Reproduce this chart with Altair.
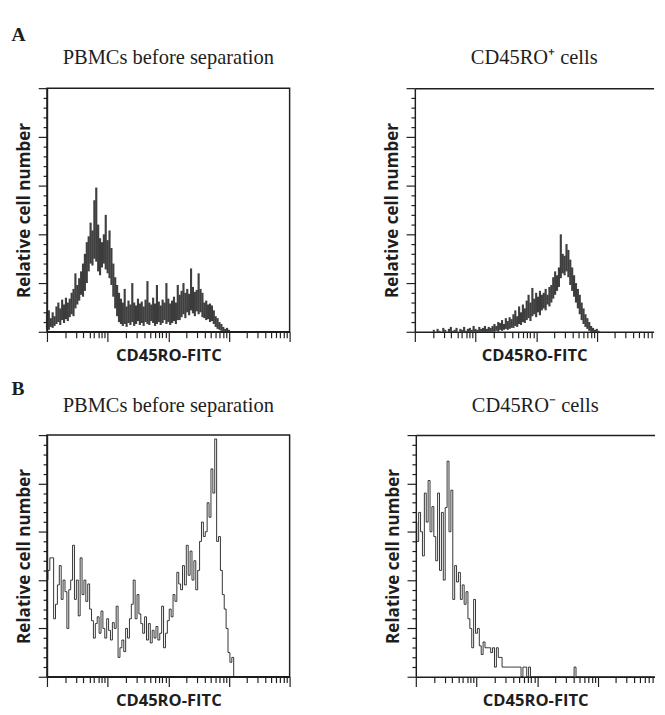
import altair as alt
import pandas as pd

# ---------------- data (heights) ----------------
CHANNELS_PER_DECADE = 32

# Panel A, left: PBMCs before separation (dense band: lower / upper envelope per channel)
a_left_lo = [3, 2, 5, 4, 6, 8, 10, 7, 12, 9, 13, 11, 15, 18, 16, 24, 28, 32, 38,
             36, 42, 50, 62, 70, 68, 75, 72, 62, 58, 66, 70, 64, 60, 55, 48, 36, 24,
             16, 10, 8, 6, 8, 5, 9, 7, 10, 6, 8, 11, 7, 9, 6, 10, 8, 7, 11, 9, 6, 8,
             10, 7, 9, 12, 8, 10, 7, 9, 11, 8, 12, 12, 15, 18, 14, 20, 17, 22, 19, 16,
             21, 18, 20, 15, 14, 12, 13, 10, 11, 8, 5, 3, 2, 1, 0, 0, 0, 0]
a_left_hi = [18, 22, 14, 20, 16, 26, 30, 24, 33, 28, 35, 30, 34, 40, 44, 60, 48, 55, 62,
             70, 80, 92, 98, 112, 104, 135, 148, 110, 96, 92, 100, 120, 94, 104, 86, 70, 56,
             48, 40, 34, 30, 44, 26, 32, 28, 50, 30, 27, 34, 29, 31, 26, 33, 52, 30, 28, 35,
             29, 48, 31, 27, 33, 30, 50, 34, 29, 32, 36, 30, 48, 38, 42, 50, 40, 44, 39, 65,
             46, 41, 43, 60, 44, 40, 30, 32, 28, 29, 27, 22, 16, 14, 10, 8, 5, 3, 4, 2]

# Panel A, right: CD45RO+ cells
a_right_lo = [0, 0, 0, 0, 0, 0, 0, 0, 0, 0, 0, 0, 0, 0, 0, 0, 0, 0, 0, 0, 0,
              0, 0, 0, 0, 0, 0, 0, 0, 0, 0, 0, 0, 0, 0, 0, 0, 0, 0, 0, 0, 0,
              0, 1, 0, 2, 1, 2, 3, 2, 3, 4, 4, 6, 5, 8, 7, 10, 9,
              12, 14, 11, 16, 18, 15, 20, 17, 22, 24, 22, 28, 26, 30,
              34, 38, 42, 46, 55, 60, 58, 62, 56, 48, 42, 36, 30,
              24, 18, 12, 8, 5, 3, 1, 0, 0, 0, 0, 0]
a_right_hi = [0, 0, 0, 0, 0, 0, 0, 0, 0, 0,
              2, 0, 3, 1, 0, 4, 2, 0, 3, 5, 1, 2, 4, 0, 3, 2, 5, 1, 3, 4, 2, 6,
              3, 2, 5, 3, 4, 6, 3, 5, 4, 6,
              8, 6, 10, 9, 12, 8, 14, 11, 15, 13, 18, 22, 16, 26, 20, 28, 24,
              32, 38, 30, 45, 34, 40, 36, 42, 38, 40, 44, 38, 46, 48,
              56, 62, 58, 66, 100, 80, 78, 90, 84, 74, 66, 58, 50,
              44, 38, 30, 24, 18, 14, 10, 6, 4, 2, 3, 1]

# Panel B, left: PBMCs before separation (line histogram)
b_left = [100, 110, 123, 123, 60, 75, 95, 115, 80, 100, 88, 50, 90, 100, 136, 80, 100, 63,
          123, 85, 100, 78, 96, 70, 58, 40, 55, 62, 45, 68, 50, 40, 60, 48, 38, 56, 50, 73,
          20, 30, 38, 26, 50, 40, 60, 75, 100, 60, 85, 65, 55, 45, 62, 38, 55, 35, 48, 40,
          52, 38, 45, 73, 30, 45, 58, 70, 62, 85, 78, 108, 96, 90, 115, 95, 136, 105, 130,
          100, 120, 90, 110, 140, 160, 145, 150, 180, 165, 215, 190, 246, 140, 145, 110, 85,
          70, 50, 25, 15, 20, 0,
          0, 0, 0, 0, 0, 0, 0, 0, 0, 0, 0, 0, 0, 0, 0, 0, 0, 0, 0, 0, 0, 0, 0, 0, 0, 0, 0,
          0, 0]

# Panel B, right: CD45RO- cells
b_right = [160, 140, 170, 150, 125, 190, 160, 203, 150, 176, 145, 120, 190, 110, 170, 100,
           175, 223, 150, 193, 80, 115, 98, 108, 80, 95, 75, 88, 60, 50, 30, 80, 45, 50, 32,
           23, 36, 30, 30, 30, 25, 30, 10, 30, 20, 20, 10, 10, 10, 10, 10, 10, 10, 10, 10, 10,
           0, 10, 10, 0, 10, 0,
           0, 0, 0, 0, 0, 0, 0, 0, 0, 0, 0, 0, 0, 0, 0, 0, 0, 0, 0, 0, 0, 0,
           10,
           0, 0, 0, 0, 0, 0, 0, 0, 0, 0, 0, 0, 0, 0, 0, 0, 0, 0, 0, 0, 0, 0,
           0, 0, 0, 0, 0, 0, 0, 0, 0, 0, 0, 0, 0, 0, 0, 0, 0, 0, 0, 0]

panel_titles = ["PBMCs before separation", "CD45RO\u207a cells",
                "PBMCs before separation", "CD45RO\u207b cells"]
row_labels = ["A", "B"]
x_title = "CD45RO-FITC"
y_title = "Relative cell number"

decades = [1, 10, 100, 1000, 10000]
minor_mult = [2, 3, 4, 5, 6, 7, 8, 9]

# ---------------- styling / layout ----------------
SERIF = "Liberation Serif"
SANS = "Open Sans"
INK = "#1e1e1e"

LEFT_W, RIGHT_W = 249, 245
ROW_A_H, ROW_B_H = 250, 248
PX_PER_DECADE = LEFT_W / 4

x_ticks_all = sorted(decades + [m * d for d in decades[:-1] for m in minor_mult])
y_ticks_all = list(range(0, 251, 10))


def xs(n):
    return [10 ** (i / CHANNELS_PER_DECADE) for i in range(n)]


def x_axis(limit):
    vals = [v for v in x_ticks_all if v <= limit * 1.0001]
    return alt.Axis(
        orient="bottom", values=vals, labels=False, grid=False, title=x_title,
        tickSize={"condition": {"test": "abs(log(datum.value)/LN10 - round(log(datum.value)/LN10)) < 0.001",
                                "value": 10}, "value": 6},
        tickColor=INK, tickWidth=1.2, domainColor=INK, domainWidth=1.5,
        titleFont=SANS, titleFontWeight="bold", titleFontSize=17, titleColor=INK,
        titlePadding=6,
    )


def y_axis():
    return alt.Axis(
        values=y_ticks_all, labels=False, grid=False, title=y_title,
        tickSize={"condition": {"test": "datum.value % 50 == 0", "value": 9}, "value": 4},
        tickColor=INK, tickWidth=1.2, domainColor=INK, domainWidth=1.5,
        titleFont=SANS, titleFontWeight="bold", titleFontSize=17.5, titleColor=INK,
        titlePadding=4,
    )


def ptitle(t, off):
    return alt.TitleParams(t, font=SERIF, fontSize=21, fontWeight="normal", color=INK, offset=off)


def panel(df, kind, title, width, height, xmax, framed, toff):
    xs_scale = alt.Scale(type="log", domain=[1, xmax], nice=False)
    ys_scale = alt.Scale(domain=[0, 250], nice=False)
    base = alt.Chart(df)
    if kind == "band":
        main = base.mark_rule(color="#2a2a2a", strokeWidth=2.2, opacity=0.9).encode(
            x=alt.X("x:Q", scale=xs_scale, axis=x_axis(xmax)),
            y=alt.Y("lo:Q", scale=ys_scale, axis=y_axis()),
            y2="hi:Q",
        )
    else:
        main = base.mark_line(interpolate="step", color="#1a1a1a", strokeWidth=0.9).encode(
            x=alt.X("x:Q", scale=xs_scale, axis=x_axis(xmax)),
            y=alt.Y("h:Q", scale=ys_scale, axis=y_axis()),
        )
    if framed:
        return main.properties(width=width, height=height, title=ptitle(title, toff),
                               view=alt.ViewBackground(stroke=INK, strokeWidth=1.5))
    top = base.mark_rule(opacity=0).encode(
        x=alt.X("x:Q", scale=xs_scale,
                axis=alt.Axis(orient="top", labels=False, ticks=False, title=None,
                              domainColor=INK, domainWidth=1.5, grid=False)))
    return alt.layer(main, top).resolve_axis(x="independent").properties(
        width=width, height=height, title=ptitle(title, toff))


df_al = pd.DataFrame({"x": xs(len(a_left_lo)), "lo": a_left_lo, "hi": a_left_hi})
df_ar = pd.DataFrame({"x": xs(len(a_right_lo)), "lo": a_right_lo, "hi": a_right_hi})
df_bl = pd.DataFrame({"x": xs(len(b_left)), "h": b_left})
df_br = pd.DataFrame({"x": xs(len(b_right)), "h": b_right})

xmax_left = 10000
xmax_right = 10 ** (RIGHT_W / PX_PER_DECADE)


def row_title(t, off):
    return alt.TitleParams(t, anchor="start", font=SERIF, fontWeight="bold", fontSize=20,
                           color=INK, dx=-4, offset=off)


row_a = alt.hconcat(
    panel(df_al, "band", panel_titles[0], LEFT_W, ROW_A_H, xmax_left, True, 20.25),
    panel(df_ar, "band", panel_titles[1], RIGHT_W, ROW_A_H, xmax_right, False, 20.25),
    spacing=94.5,
).properties(title=row_title(row_labels[0], 2))

row_b = alt.hconcat(
    panel(df_bl, "line", panel_titles[2], LEFT_W, ROW_B_H, xmax_left, True, 18.6),
    panel(df_br, "line", panel_titles[3], RIGHT_W, ROW_B_H, xmax_right, False, 18.6),
    spacing=94.5,
).properties(title=row_title(row_labels[1], -4))

chart = alt.vconcat(row_a, row_b, spacing=15).properties(
    padding={"left": 3, "top": 8, "right": 0, "bottom": -3},
    background="white",
).configure_view(stroke=None)

chart.save("out.html", embed_options={"renderer": "svg", "actions": False})
